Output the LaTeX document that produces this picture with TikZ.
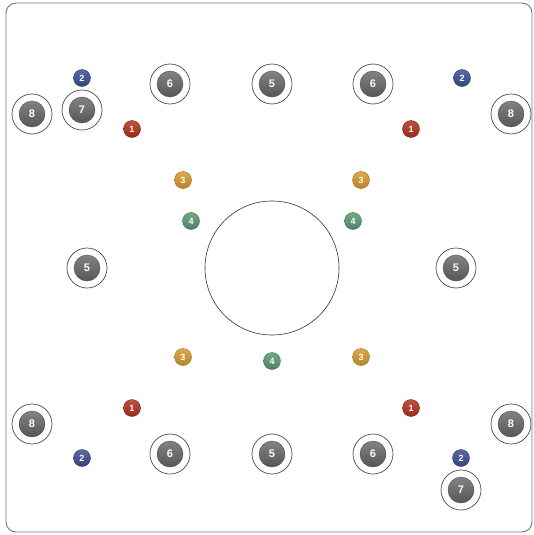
\documentclass[tikz,border=0pt]{standalone}
\usepackage{fontspec}
\setmainfont{Liberation Sans}
\definecolor{cred}{HTML}{B3321F}
\definecolor{cblue}{HTML}{3D4F94}
\definecolor{corange}{HTML}{D99A2E}
\definecolor{cgreen}{HTML}{5B9A72}
\definecolor{cgrey}{HTML}{6C6C6C}
\tikzset{
  badge/.style={circle,top color=#1!85!white,bottom color=#1!85!black,draw=#1!70!black,line width=0.4pt,minimum size=17pt,inner sep=0pt,text=white,font=\bfseries\fontsize{9}{9}\selectfont},
  post/.style={circle,top color=cgrey!85!white,bottom color=cgrey!80!black,draw=cgrey!70!black,line width=0.4pt,minimum size=26pt,inner sep=0pt,text=white,font=\bfseries\fontsize{11}{11}\selectfont},
  ring/.style={circle,draw=black!70,line width=0.7pt,minimum size=40pt,inner sep=0pt,fill=white}
}
\newcommand{\postat}[3]{\node[ring] (r#1) at (#2) {}; \node[post] (#1) at (#2) {#3};}
\begin{document}
\begin{tikzpicture}[x=1pt,y=-1pt]
\useasboundingbox (0,0) rectangle (534,535);
\draw[black!55,line width=0.9pt,rounded corners=10pt] (6,3) rectangle (532,532);
\node[circle,draw=black!80,line width=0.6pt,minimum size=134pt,inner sep=0pt] (hub) at (272,268) {};
% 8
\postat{e1}{32,114}{8}
\postat{e2}{511,114}{8}
\postat{e3}{32,424}{8}
\postat{e4}{511,424}{8}
% 7
\postat{s1}{82,110}{7}
\postat{s2}{461,490}{7}
% 6
\postat{x1}{170,84}{6}
\postat{x2}{373,84}{6}
\postat{x3}{170,454}{6}
\postat{x4}{373,454}{6}
% 5
\postat{f1}{272,84}{5}
\postat{f2}{87,268}{5}
\postat{f3}{456,268}{5}
\postat{f4}{272,454}{5}
% 2
\node[badge=cblue] (b1) at (82,78) {2};
\node[badge=cblue] (b2) at (462,78) {2};
\node[badge=cblue] (b3) at (82,458) {2};
\node[badge=cblue] (b4) at (461,458) {2};
% 1
\node[badge=cred] (a1) at (132,129) {1};
\node[badge=cred] (a2) at (411,129) {1};
\node[badge=cred] (a3) at (132,408) {1};
\node[badge=cred] (a4) at (411,408) {1};
% 3
\node[badge=corange] (c1) at (183,180) {3};
\node[badge=corange] (c2) at (361,180) {3};
\node[badge=corange] (c3) at (183,357) {3};
\node[badge=corange] (c4) at (361,357) {3};
% 4
\node[badge=cgreen] (d1) at (191,221) {4};
\node[badge=cgreen] (d2) at (353,221) {4};
\node[badge=cgreen] (d3) at (272,361) {4};
\end{tikzpicture}
\end{document}
